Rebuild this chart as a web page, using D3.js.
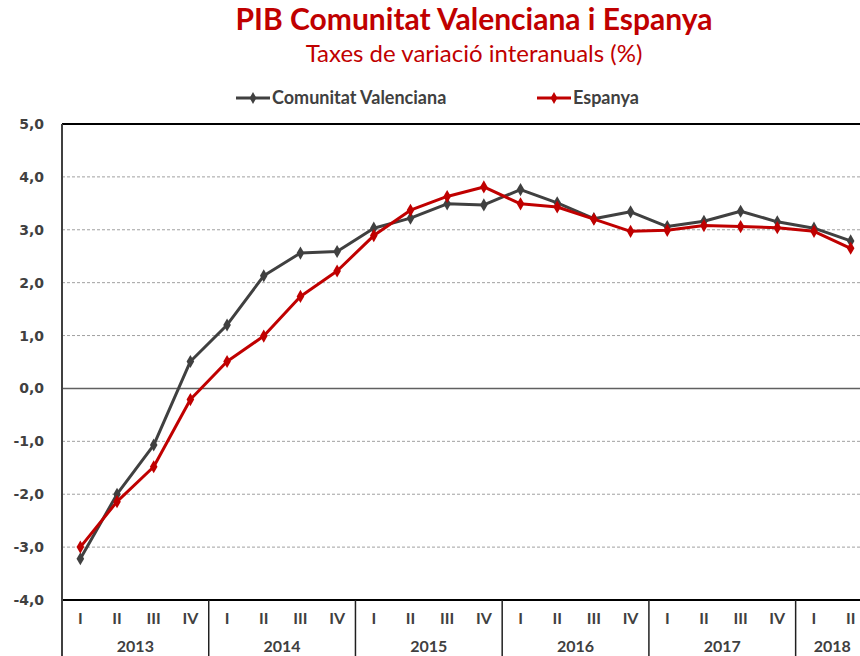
<!DOCTYPE html>
<html>
<head>
<meta charset="utf-8">
<script src="https://cdn.jsdelivr.net/npm/d3@7"></script>
<style>
  body { margin: 0; background: #fff; }
  svg { display: block; }
</style>
</head>
<body>
<div id="chart"></div>
<script>
// dades
const years = ["2013", "2014", "2015", "2016", "2017", "2018"];
const quarters = ["I", "II", "III", "IV"];
const cv = [-3.22, -2.0, -1.07, 0.51, 1.2, 2.13, 2.56, 2.59, 3.03, 3.22, 3.49, 3.47,
            3.76, 3.51, 3.21, 3.34, 3.06, 3.16, 3.35, 3.15, 3.03, 2.79];
const es = [-3.0, -2.14, -1.48, -0.21, 0.51, 0.99, 1.74, 2.22, 2.89, 3.37, 3.63, 3.81,
            3.49, 3.43, 3.2, 2.97, 2.99, 3.08, 3.06, 3.04, 2.97, 2.65];
const yTicks = [5, 4, 3, 2, 1, 0, -1, -2, -3, -4];

const series = [
  { name: "Comunitat Valenciana", values: cv, color: "#404040" },
  { name: "Espanya", values: es, color: "#C00000" }
];

// periodes (2018 només té dos trimestres)
const periods = [];
years.forEach(y => quarters.forEach(q => periods.push({ year: y, q: q })));
periods.length = cv.length;
const keys = periods.map(p => p.year + "-" + p.q);

const W = 860, H = 656;
const mLeft = 62, mRight = 869, mTop = 124, mBottom = 600;

const svg = d3.select("#chart").append("svg")
  .attr("width", W).attr("height", H);

const x = d3.scaleBand().domain(keys).range([mLeft, mRight]);
const y = d3.scaleLinear().domain([-4, 5]).range([mBottom, mTop]);

// títols
svg.append("text")
  .attr("x", 474).attr("y", 30)
  .attr("text-anchor", "middle")
  .style("font-family", "Lato, sans-serif")
  .style("font-weight", "bold")
  .style("font-size", "30px")
  .style("fill", "#C00000")
  .text("PIB Comunitat Valenciana i Espanya");

svg.append("text")
  .attr("x", 474).attr("y", 62)
  .attr("text-anchor", "middle")
  .style("font-family", "Lato, sans-serif")
  .style("font-size", "24px")
  .style("fill", "#C00000")
  .text("Taxes de variació interanuals (%)");

// llegenda
const legendX = [236, 537];
series.forEach((s, i) => {
  const g = svg.append("g").attr("transform", `translate(${legendX[i]},98)`);
  g.append("line").attr("x1", 0).attr("x2", 34).attr("y1", 0).attr("y2", 0)
    .attr("stroke", s.color).attr("stroke-width", 3);
  g.append("path").attr("d", d3.symbol(d3.symbolDiamond, 40)())
    .attr("transform", "translate(17,0)").attr("fill", s.color);
  g.append("text").attr("x", 36).attr("y", 6)
    .style("font-family", "Lato, sans-serif")
    .style("font-weight", "bold")
    .style("font-size", "18px")
    .style("fill", "#404040")
    .text(s.name);
});

// línies de quadrícula
svg.append("g").selectAll("line")
  .data(yTicks.filter(t => t !== 5 && t !== -4))
  .enter().append("line")
  .attr("x1", mLeft).attr("x2", mRight)
  .attr("y1", d => y(d)).attr("y2", d => y(d))
  .attr("stroke", d => d === 0 ? "#606060" : "#a0a0a0")
  .attr("stroke-width", d => d === 0 ? 1.5 : 1)
  .attr("stroke-dasharray", d => d === 0 ? null : "3,2");

// marc superior i eix X
svg.append("line").attr("x1", mLeft).attr("x2", mRight)
  .attr("y1", y(5)).attr("y2", y(5)).attr("stroke", "#000").attr("stroke-width", 2);
svg.append("line").attr("x1", mLeft).attr("x2", mRight)
  .attr("y1", y(-4)).attr("y2", y(-4)).attr("stroke", "#000").attr("stroke-width", 2);

// eix Y
svg.append("line").attr("x1", mLeft).attr("x2", mLeft)
  .attr("y1", mTop).attr("y2", H).attr("stroke", "#404040").attr("stroke-width", 2);

svg.append("g").selectAll("text")
  .data(yTicks).enter().append("text")
  .attr("x", 44).attr("y", d => y(d) + 5)
  .attr("text-anchor", "end")
  .style("font-family", "'DejaVu Sans', sans-serif")
  .style("font-weight", "bold")
  .style("font-size", "14px")
  .style("fill", "#404040")
  .text(d => d3.format(".1f")(d).replace(".", ",").replace("−", "-"));

// etiquetes de trimestres
svg.append("g").selectAll("text")
  .data(periods).enter().append("text")
  .attr("x", (d, i) => x(keys[i]) + x.bandwidth() / 2)
  .attr("y", 624)
  .attr("text-anchor", "middle")
  .style("font-family", "Lato, sans-serif")
  .style("font-weight", "bold")
  .style("font-size", "16px")
  .style("fill", "#404040")
  .text(d => d.q);

// anys i separadors
years.forEach(yr => {
  const idx = periods.map((p, i) => p.year === yr ? i : -1).filter(i => i >= 0);
  const x0 = x(keys[idx[0]]);
  const x1 = x(keys[idx[idx.length - 1]]) + x.bandwidth();
  svg.append("text")
    .attr("x", (x0 + x1) / 2).attr("y", 652)
    .attr("text-anchor", "middle")
    .style("font-family", "Lato, sans-serif")
    .style("font-weight", "bold")
    .style("font-size", "16px")
    .style("fill", "#404040")
    .text(yr);
  if (idx[0] > 0) {
    svg.append("line").attr("x1", x0).attr("x2", x0)
      .attr("y1", mBottom).attr("y2", H)
      .attr("stroke", "#202020").attr("stroke-width", 1.5);
  }
});

// sèries
const line = d3.line()
  .x((d, i) => x(keys[i]) + x.bandwidth() / 2)
  .y(d => y(d));

series.forEach(s => {
  svg.append("path")
    .datum(s.values)
    .attr("d", line)
    .attr("fill", "none")
    .attr("stroke", s.color)
    .attr("stroke-width", 3)
    .attr("stroke-linejoin", "round");
  svg.append("g").selectAll("path")
    .data(s.values).enter().append("path")
    .attr("d", d3.symbol(d3.symbolDiamond, 50)())
    .attr("transform", (d, i) => `translate(${x(keys[i]) + x.bandwidth() / 2},${y(d)})`)
    .attr("fill", s.color);
});
</script>
</body>
</html>
